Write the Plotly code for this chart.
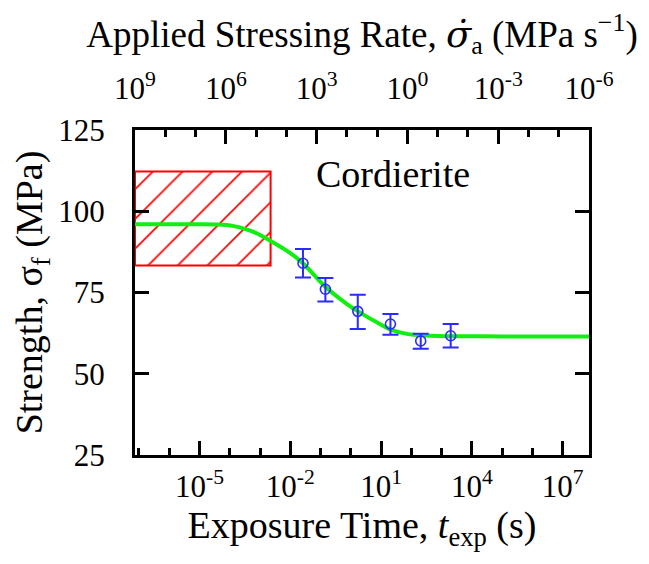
import plotly.graph_objects as go

# ---- data ----
# measured points: log10 exposure time (s), strength (MPa), error (MPa)
pt_logt = [-1.58, -0.84, 0.23, 1.31, 2.31, 3.30]
pt_strength = [84.0, 76.0, 69.2, 65.3, 60.1, 61.7]
pt_err_plus = [4.4, 3.5, 5.1, 3.1, 2.2, 3.6]
pt_err_minus = [4.4, 3.8, 5.4, 3.3, 2.4, 3.6]

# fitted curve
curve_logt = [-7.13, -6.0, -5.0, -4.4, -3.9, -3.5, -3.06, -2.62, -2.07, -1.58,
              -0.86, -0.09, 0.24, 0.9, 1.34, 1.89, 2.44, 3.5, 5.0, 7.87]
curve_strength = [96.0, 96.0, 96.0, 95.9, 95.5, 94.6, 93.0, 90.7, 87.6, 84.0,
                  76.9, 71.2, 69.2, 65.6, 63.5, 62.2, 61.8, 61.55, 61.5, 61.5]

# hatched region (log10 t range, strength range)
box_logt = [-7.13, -2.65]
box_strength = [83.3, 112.2]

bottom_tickexp = [-5, -2, 1, 4, 7]
top_tickexp = [9, 6, 3, 0, -3, -6]
y_ticks = [25, 50, 75, 100, 125]

FONT = "Liberation Serif"
BLUE = "#2b2bff"
GREEN = "#11ee11"
RED = "#ff0000"

fig = go.Figure()

bx = [10 ** box_logt[0], 10 ** box_logt[1], 10 ** box_logt[1], 10 ** box_logt[0], 10 ** box_logt[0]]
by = [box_strength[0], box_strength[0], box_strength[1], box_strength[1], box_strength[0]]
fig.add_trace(go.Scatter(
    x=bx, y=by, mode="lines", fill="toself",
    line=dict(color=RED, width=2),
    fillcolor="white",
    fillpattern=dict(shape="/", fgcolor=RED, bgcolor="white", fgopacity=1,
                     size=21, solidity=0.08, fillmode="replace"),
    showlegend=False, hoverinfo="skip"))

fig.add_trace(go.Scatter(
    x=[10 ** v for v in curve_logt], y=curve_strength, mode="lines",
    line=dict(color=GREEN, width=4, shape="spline", smoothing=0.8),
    showlegend=False))

fig.add_trace(go.Scatter(
    x=[10 ** v for v in pt_logt], y=pt_strength, mode="markers",
    marker=dict(symbol="circle-open", size=10, color=BLUE, line=dict(width=1.6, color=BLUE)),
    error_y=dict(type="data", symmetric=False, array=pt_err_plus, arrayminus=pt_err_minus,
                 color=BLUE, thickness=2, width=8),
    showlegend=False))

# empty trace to bind the top axis
fig.add_trace(go.Scatter(x=[], y=[], xaxis="x2", yaxis="y", showlegend=False, hoverinfo="skip"))

tickfont = dict(family=FONT, size=31, color="black")
titlefont = dict(family=FONT, size=38, color="black")
toptitlefont = dict(family=FONT, size=37, color="black")

sigma_dot = '<span style="font-family:DejaVu Serif"><i>σ̇</i></span>'

fig.update_layout(
    width=649, height=564,
    margin=dict(l=127, r=68, t=122, b=117),
    paper_bgcolor="white", plot_bgcolor="white",
    xaxis=dict(
        type="log", range=[-7.13, 7.87],
        tickmode="array", tickvals=[10 ** e for e in bottom_tickexp],
        ticktext=[f"10<sup>{e}</sup>" for e in bottom_tickexp],
        ticks="inside", ticklen=14, tickwidth=2.5, tickcolor="black",
        minor=dict(tickmode="array", tickvals=[10 ** e for e in range(-7, 8)],
                   ticks="inside", ticklen=7, tickwidth=2.5, tickcolor="black"),
        showline=True, linewidth=3, linecolor="black", mirror=True,
        showgrid=False, zeroline=False, tickfont=tickfont, ticklabelstandoff=2,
        title=dict(text="Exposure Time, <i>t</i><sub>exp</sub> (s)", font=titlefont, standoff=6),
    ),
    xaxis2=dict(
        type="log", range=[9.0, -6.0], overlaying="x", side="top", anchor="y",
        tickmode="array", tickvals=[10 ** e for e in top_tickexp],
        ticktext=[f"10<sup>{e}</sup>" for e in top_tickexp],
        ticks="inside", ticklen=14, tickwidth=2.5, tickcolor="black",
        minor=dict(tickmode="array", tickvals=[10 ** e for e in range(-5, 9)],
                   ticks="inside", ticklen=7, tickwidth=2.5, tickcolor="black"),
        showline=True, linewidth=3, linecolor="black",
        showgrid=False, zeroline=False, tickfont=tickfont, ticklabelstandoff=16,
        title=dict(text=f"Applied Stressing Rate, {sigma_dot}<sub>a</sub> (MPa s<sup>−1</sup>)",
                   font=toptitlefont, standoff=17),
    ),
    yaxis=dict(
        range=[25, 125], tickmode="array", tickvals=y_ticks,
        ticks="inside", ticklen=14, tickwidth=2.5, tickcolor="black",
        showline=True, linewidth=3, linecolor="black", mirror="ticks",
        showgrid=False, zeroline=False, tickfont=tickfont, ticklabelstandoff=21,
        title=dict(text="Strength, σ<sub>f</sub> (MPa)", font=titlefont, standoff=13),
    ),
    annotations=[dict(x=1.4, y=111.5, xref="x", yref="y", text="Cordierite",
                      showarrow=False, font=dict(family=FONT, size=38, color="black"))],
)

fig.write_html("out.html")
